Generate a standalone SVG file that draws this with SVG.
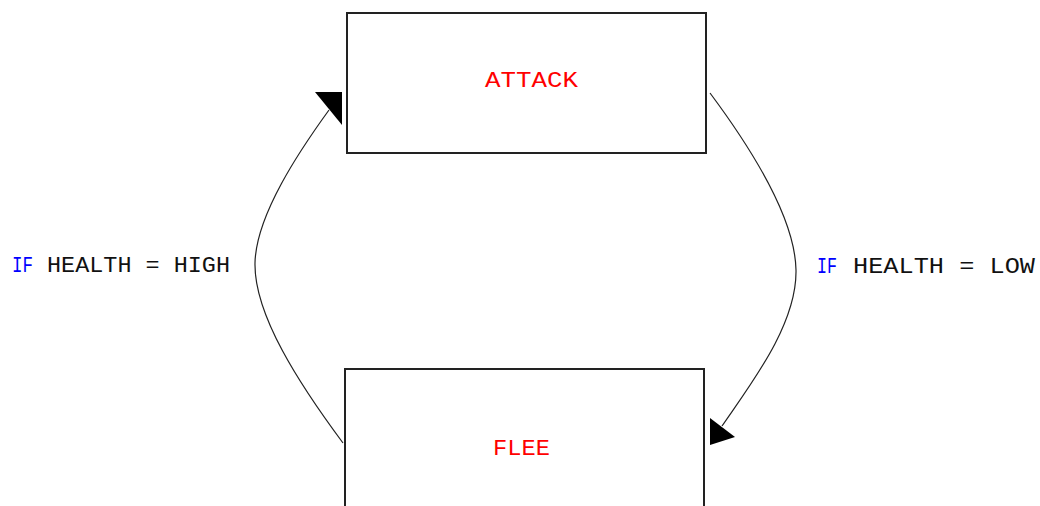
<svg xmlns="http://www.w3.org/2000/svg" width="1040" height="506" viewBox="0 0 1040 506">
  <style>
    .state { fill: #ffffff; stroke: #222222; stroke-width: 2; }
    .name { font-family: "Liberation Mono", "DejaVu Sans Mono", monospace; font-size: 22px; fill: #ff0000; }
    .cond { font-family: "Liberation Mono", "DejaVu Sans Mono", monospace; font-size: 22px; fill: #111111; }
    .kw { fill: #0000ff; }
    .edge { fill: none; stroke: #222222; stroke-width: 1.2; }
    .head { fill: #000000; }
  </style>
  <rect width="1040" height="506" fill="#ffffff"/>

  <g id="attack">
    <rect class="state" x="347" y="13" width="359" height="140"/>
    <text class="name" x="485" y="87" textLength="93" lengthAdjust="spacingAndGlyphs">ATTACK</text>
  </g>

  <g id="flee">
    <rect class="state" x="345" y="369" width="359" height="150"/>
    <text class="name" x="493" y="455" textLength="57" lengthAdjust="spacingAndGlyphs">FLEE</text>
  </g>

  <g id="connectors">
    <!-- FLEE to ATTACK -->
    <path class="edge" d="M 343 443 C 300 385 254 315 255 263 C 256 215 300 150 329 110"/>
    <polygon class="head" points="315,92 342,92 342,125"/>
    <!-- ATTACK to FLEE -->
    <path class="edge" d="M 710 93 C 745 140 795 215 796 270 C 797 325 750 385 722 426"/>
    <polygon class="head" points="710,418 710,445 735,437"/>
  </g>

  <g id="label-high">
    <text class="cond kw" x="12" y="272" textLength="21" lengthAdjust="spacingAndGlyphs">IF</text>
    <text class="cond" x="47" y="272" textLength="183" lengthAdjust="spacingAndGlyphs">HEALTH = HIGH</text>
  </g>

  <g id="label-low">
    <text class="cond kw" x="817" y="273" textLength="20" lengthAdjust="spacingAndGlyphs">IF</text>
    <text class="cond" x="853" y="273" textLength="182" lengthAdjust="spacingAndGlyphs">HEALTH = LOW</text>
  </g>
</svg>
